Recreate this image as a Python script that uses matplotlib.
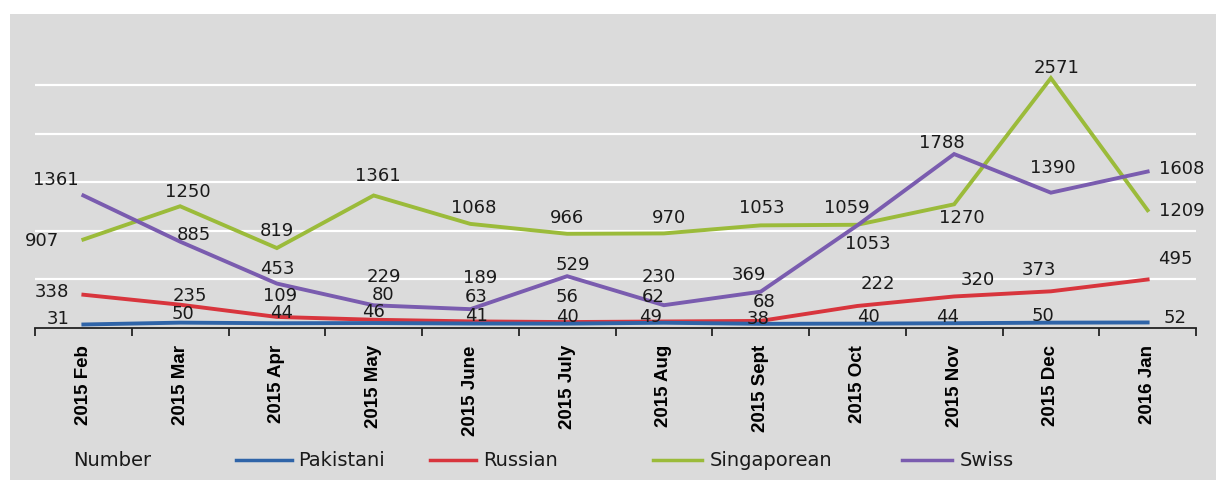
import matplotlib
matplotlib.use("Agg")
import matplotlib.pyplot as plt
from matplotlib.lines import Line2D
from matplotlib.patches import Rectangle

# ---------------- data ----------------
months = ["2015 Feb", "2015 Mar", "2015 Apr", "2015 May", "2015 June", "2015 July",
          "2015 Aug", "2015 Sept", "2015 Oct", "2015 Nov", "2015 Dec", "2016 Jan"]
pakistani = [31, 50, 44, 46, 41, 40, 49, 38, 40, 44, 50, 52]
russian = [338, 235, 109, 80, 63, 56, 62, 68, 222, 320, 373, 495]
singaporean = [907, 1250, 819, 1361, 1068, 966, 970, 1053, 1059, 1270, 2571, 1209]
swiss = [1361, 885, 453, 229, 189, 529, 230, 369, 1053, 1788, 1390, 1608]
series_names = ["Pakistani", "Russian", "Singaporean", "Swiss"]

# ---------------- style ----------------
colors = {"Pakistani": "#2f64a8", "Russian": "#d8353d",
          "Singaporean": "#9bbb3a", "Swiss": "#7a5caf"}

# label offsets in pixels (dx, dy up) per series per point
label_offsets = {
    "Pakistani": [(-25, 6), (3, 10), (5, 11), (0, 12), (6, 9), (0, 8),
                  (-13, 7), (-2, 6), (11, 8), (-7, 7), (-8, 8), (27, 5)],
    "Russian": [(-31, 4), (10, 10), (3, 22), (9, 26), (6, 25), (0, 26),
                (-11, 25), (4, 20), (20, 23), (24, 17), (-12, 22), (28, 21)],
    "Singaporean": [(-41, 0), (8, 15), (0, 18), (4, 20), (3, 17), (0, 17),
                    (5, 16), (1, 18), (-11, 18), (8, -13), (6, 11), (34, 0)],
    "Swiss": [(-28, 16), (14, 8), (0, 16), (10, 29), (10, 32), (6, 12),
              (-5, 29), (-12, 18), (10, -18), (-12, 12), (2, 26), (34, 4)],
}

W, H = 1223, 481
fig = plt.figure(figsize=(W / 100, H / 100), dpi=100, facecolor="white")

# gray panel
fig.add_artist(Rectangle((10 / W, 0), (1216 - 10) / W, (481 - 15) / H,
                         transform=fig.transFigure, facecolor="#dbdbdb",
                         edgecolor="none", zorder=0))

ax = fig.add_axes([35 / W, (H - 328.5) / H, 1161 / W, 291 / H])
ax.set_facecolor("none")

x = list(range(len(months)))
data = {"Pakistani": pakistani, "Russian": russian,
        "Singaporean": singaporean, "Swiss": swiss}

for yv in [500, 1000, 1500, 2000, 2500]:
    ax.axhline(yv, color="white", lw=1.6, zorder=1)

draw_order = ["Singaporean", "Swiss", "Russian", "Pakistani"]
for name in draw_order:
    ax.plot(x, data[name], color=colors[name], lw=2.8, zorder=3,
            solid_joinstyle="miter")

for name in series_names:
    for i, v in enumerate(data[name]):
        dx, dy = label_offsets[name][i]
        ax.annotate(str(v), (i, v), xytext=(dx, dy), textcoords="offset pixels",
                    ha="center", va="center", fontsize=13,
                    family="DejaVu Sans", color="#1a1a1a", zorder=4)

ax.set_xlim(-0.5, len(months) - 0.5)
ax.set_ylim(0, 3000)
for s in ["top", "right", "left"]:
    ax.spines[s].set_visible(False)
ax.spines["bottom"].set_color("#222222")
ax.spines["bottom"].set_linewidth(1.3)
ax.set_yticks([])

ax.set_xticks([i - 0.5 for i in range(len(months) + 1)])
ax.set_xticklabels([])
ax.tick_params(axis="x", which="major", length=6, width=1.3, color="#222222",
               direction="out")
ax.set_xticks(x, minor=True)
ax.set_xticklabels(months, minor=True, rotation=90, fontsize=13.5,
                   fontweight="bold",
                   family=["Liberation Sans Narrow", "DejaVu Sans Condensed",
                           "Liberation Sans"])
ax.tick_params(axis="x", which="minor", length=0, pad=12)

# legend
ly = (H - 461) / H
fig.text(73 / W, ly, "Number", ha="left", va="center", fontsize=14,
         family="DejaVu Sans", color="#1a1a1a")
legend_pos = {"Pakistani": (236, 292, 298), "Russian": (430, 476, 483),
              "Singaporean": (653, 702, 710), "Swiss": (902, 952, 960)}
for name in series_names:
    x0, x1, xt = legend_pos[name]
    fig.add_artist(Line2D([x0 / W, x1 / W], [ly, ly], transform=fig.transFigure,
                          color=colors[name], lw=2.5))
    fig.text(xt / W, ly, name, ha="left", va="center", fontsize=14,
             family="DejaVu Sans", color="#1a1a1a")

fig.savefig("out.png", dpi=100, facecolor="white")
